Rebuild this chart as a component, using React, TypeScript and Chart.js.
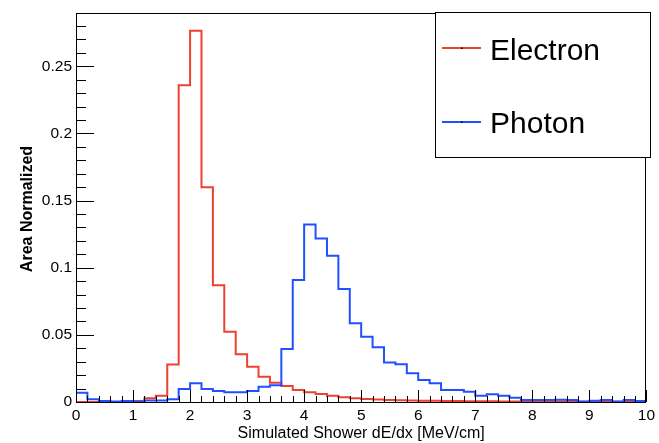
import React, { useEffect, useRef } from "react";
import { Chart, registerables } from "chart.js";

Chart.register(...registerables);

const BIN_WIDTH = 0.2;
const X_MIN = 0;
const X_MAX = 10;
const Y_MAX = 0.2895;

const electronValues = [
  0, 0, 0, 0, 0, 0.0008, 0.0027, 0.0047, 0.028, 0.236,
  0.2765, 0.16, 0.087, 0.0523, 0.0355, 0.0263, 0.0188, 0.0144, 0.0119, 0.0089,
  0.0072, 0.006, 0.0047, 0.0035, 0.0027, 0.0022, 0.0018, 0.0015, 0.0013, 0.0011,
  0.001, 0.0009, 0.0008, 0.0007, 0.0006, 0.0005, 0.0005, 0.0004, 0.0004, 0.0004,
  0.0003, 0.0003, 0.0003, 0.0003, 0.0002, 0.0002, 0.0002, 0.0002, 0.0002, 0.0001,
];

const photonValues = [
  0.0069, 0.002, 0.0008, 0.0003, 0.0008, 0.0003, 0.0012, 0.0012, 0.002, 0.0097,
  0.014, 0.0097, 0.0082, 0.0072, 0.0072, 0.0082, 0.0114, 0.0124, 0.0394, 0.0908,
  0.1322, 0.1218, 0.1089, 0.0841, 0.0586, 0.0486, 0.0407, 0.0295, 0.0281, 0.0214,
  0.0164, 0.0139, 0.0089, 0.0089, 0.0077, 0.0047, 0.0057, 0.0047, 0.0032, 0.0015,
  0.0015, 0.0015, 0.0017, 0.0015, 0.0003, 0.001, 0.0015, 0.0003, 0.0015, 0.0008,
];

const seriesNames = ["Electron", "Photon"];
const seriesColors = ["#f04030", "#2050ff"];
const xTitle = "Simulated Shower dE/dx [MeV/cm]";
const yTitle = "Area Normalized";

const FONT = "'Liberation Sans', Arial, Helvetica, sans-serif";

function toSteps(values: number[]) {
  const pts = values.map((v, i) => ({ x: X_MIN + i * BIN_WIDTH, y: v }));
  pts.push({ x: X_MIN + values.length * BIN_WIDTH, y: values[values.length - 1] });
  return pts;
}

const decorPlugin = {
  id: "rootDecor",
  afterDatasetsDraw(chart: any) {
    const { ctx, chartArea } = chart;
    const xs = chart.scales.x;
    const ys = chart.scales.y;
    const { left, right, top, bottom } = chartArea;
    ctx.save();
    ctx.strokeStyle = "#000";
    ctx.lineWidth = 1;
    // y ticks
    for (let k = 0; k <= 28; k++) {
      const v = k * 0.01;
      const py = Math.round(ys.getPixelForValue(v)) + 0.5;
      const len = k % 5 === 0 ? 18 : 10;
      ctx.beginPath();
      ctx.moveTo(left, py);
      ctx.lineTo(left + len, py);
      ctx.stroke();
    }
    // x ticks
    for (let k = 0; k <= 50; k++) {
      const v = k * 0.2;
      const px = Math.round(xs.getPixelForValue(v)) + 0.5;
      const len = k % 5 === 0 ? 12 : 6;
      ctx.beginPath();
      ctx.moveTo(px, bottom);
      ctx.lineTo(px, bottom - len);
      ctx.stroke();
    }
    // frame
    ctx.strokeRect(Math.round(left) + 0.5, Math.round(top) + 0.5, Math.round(right - left) - 1, Math.round(bottom - top));
    ctx.restore();
  },
  afterDraw(chart: any) {
    const { ctx, chartArea } = chart;
    ctx.save();
    // legend box
    const bx = 435.5, by = 12.5, bw = 215, bh = 145;
    ctx.fillStyle = "#fff";
    ctx.fillRect(bx, by, bw, bh);
    ctx.strokeStyle = "#000";
    ctx.lineWidth = 1;
    ctx.strokeRect(bx, by, bw, bh);
    const rows = [48, 122];
    const bases = [60, 133];
    seriesNames.forEach((name, i) => {
      ctx.strokeStyle = seriesColors[i];
      ctx.lineWidth = 2;
      ctx.beginPath();
      ctx.moveTo(442, rows[i]);
      ctx.lineTo(481, rows[i]);
      ctx.stroke();
      ctx.fillStyle = "#000";
      ctx.fillRect(461, rows[i] - 0.5, 1.5, 1.5);
      ctx.font = `30px ${FONT}`;
      ctx.textAlign = "left";
      ctx.textBaseline = "alphabetic";
      ctx.fillText(name, 490, bases[i]);
    });
    // axis titles
    ctx.fillStyle = "#000";
    ctx.font = `16px ${FONT}`;
    ctx.textAlign = "center";
    ctx.textBaseline = "middle";
    ctx.fillText(xTitle, (chartArea.left + chartArea.right) / 2, 434);
    ctx.translate(28, 209);
    ctx.rotate(-Math.PI / 2);
    ctx.font = `bold 16px ${FONT}`;
    ctx.fillText(yTitle, 0, 0);
    ctx.restore();
  },
};

export default function App() {
  const ref = useRef<HTMLCanvasElement | null>(null);
  useEffect(() => {
    if (!ref.current) return;
    const chart = new Chart(ref.current, {
      type: "line",
      data: {
        datasets: [
          {
            label: seriesNames[0],
            data: toSteps(electronValues),
            borderColor: seriesColors[0],
            borderWidth: 2,
            pointRadius: 0,
            stepped: "before",
            fill: false,
            order: 1,
          },
          {
            label: seriesNames[1],
            data: toSteps(photonValues),
            borderColor: seriesColors[1],
            borderWidth: 2,
            pointRadius: 0,
            stepped: "before",
            fill: false,
            order: 0,
          },
        ],
      },
      options: {
        animation: false,
        responsive: false,
        devicePixelRatio: 1,
        layout: { padding: { top: 13, right: 8, left: 0, bottom: 0 } },
        plugins: { legend: { display: false }, tooltip: { enabled: false } },
        scales: {
          x: {
            type: "linear",
            min: X_MIN,
            max: X_MAX,
            grid: { display: false, drawTicks: false },
            border: { display: false },
            afterFit: (s: any) => {
              s.height = 41;
            },
            ticks: {
              stepSize: 1,
              padding: 4,
              maxRotation: 0,
              color: "#000",
              font: { family: FONT, size: 15.5 },
              callback: (v: any) => String(v),
            },
          },
          y: {
            type: "linear",
            min: 0,
            max: Y_MAX,
            grid: { display: false, drawTicks: false },
            border: { display: false },
            afterFit: (s: any) => {
              s.width = 76;
            },
            ticks: {
              stepSize: 0.05,
              includeBounds: false,
              padding: 4,
              color: "#000",
              font: { family: FONT, size: 15.5 },
              callback: (v: any) => String(parseFloat(Number(v).toFixed(3))),
            },
          },
        },
      },
      plugins: [decorPlugin],
    });
    return () => chart.destroy();
  }, []);
  return (
    <div style={{ position: "fixed", left: 0, top: 0, width: 659, height: 443, background: "#fff" }}>
      <canvas ref={ref} width={659} height={443} style={{ display: "block" }} />
    </div>
  );
}
